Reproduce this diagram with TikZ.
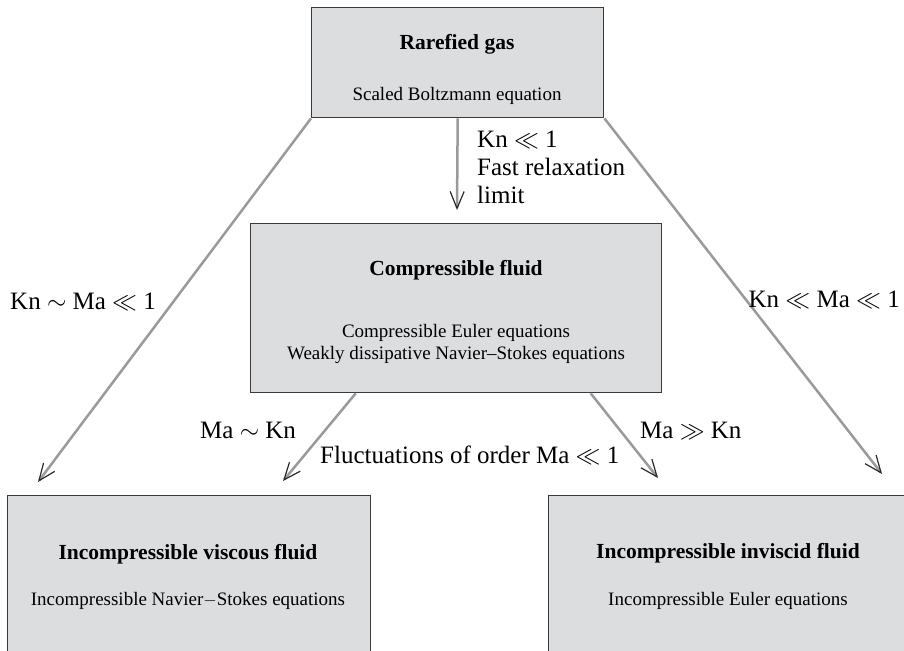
\documentclass[tikz,border=0pt]{standalone}
\usepackage{fontspec}
\setmainfont{Liberation Serif}
\usetikzlibrary{arrows.meta}
\definecolor{boxfill}{HTML}{DCDDDF}
\definecolor{boxline}{HTML}{3A3A3A}
\definecolor{shaft}{HTML}{9A9A9A}
\definecolor{tipc}{HTML}{2A2A2A}
\begin{document}
\begin{tikzpicture}[x=1pt,y=-1pt,
  panel/.style={draw=boxline, fill=boxfill, line width=1.4pt, inner sep=0pt, anchor=north west},
  title/.style={font=\fontsize{21.5}{24}\selectfont\bfseries, anchor=base, inner sep=0pt},
  body/.style={font=\fontsize{19}{22}\selectfont, anchor=base, inner sep=0pt},
  lbl/.style={font=\fontsize{25}{28}\selectfont, inner sep=0pt, anchor=base west},
  flow/.style={draw=shaft, line width=2.5pt,
    -{Straight Barb[length=17pt,width=14pt,line width=1.2pt,color=tipc]}}]

\useasboundingbox (0,0) rectangle (904,650);
\clip (0,0) rectangle (904,650);

% boxes
\node[panel, minimum width=292pt, minimum height=110pt] (gas)  at (311,7)   {};
\node[panel, minimum width=411pt, minimum height=169pt] (comp) at (250,223) {};
\node[panel, minimum width=363pt, minimum height=170pt] (visc) at (7,495)   {};
\node[panel, minimum width=362pt, minimum height=170pt] (invi) at (548,495) {};

% box texts
\node[title] (gasT)  at (457,50)  {Rarefied gas};
\node[body]  (gasB)  at (457,101) {Scaled Boltzmann equation};
\node[title] (compT) at (456,275) {Compressible fluid};
\node[body]  (compB) at (456,337) {Compressible Euler equations};
\node[body]  (compC) at (456,359) {Weakly dissipative Navier--Stokes equations};
\node[title] (viscT) at (188,559) {Incompressible viscous fluid};
\node[body]  (viscB) at (188,605) {Incompressible Navier$-$Stokes equations};
\node[title] (inviT) at (728,558) {Incompressible inviscid fluid};
\node[body]  (inviB) at (728,605) {Incompressible Euler equations};

% arrow ends
\coordinate (tipL) at (38,482);
\coordinate (tipR) at (882,474);
\coordinate (tipM) at (457,210);
\coordinate (tipA) at (283,481);
\coordinate (tipB) at (658,478);

% connectors
\draw[flow] (gas.south west) -- (tipL);
\draw[flow] (gas.south east) -- (tipR);
\draw[flow] (gas.south) -- (tipM);
\draw[flow] ([xshift=-100.5pt]comp.south) -- (tipA);
\draw[flow] ([xshift=134.5pt]comp.south) -- (tipB);

% labels
\node[lbl] (lblL)  at (10,309)  {Kn $\sim$ Ma $\ll$ 1};
\node[lbl, anchor=base east] (lblR) at (900,307) {Kn $\ll$ Ma $\ll$ 1};
\node[lbl] (relA)  at (477,147) {Kn $\ll$ 1};
\node[lbl] (relB)  at (477,175) {Fast relaxation};
\node[lbl] (relC)  at (477,203) {limit};
\node[lbl] (lblA)  at (200,438) {Ma $\sim$ Kn};
\node[lbl] (lblF)  at (320,463) {Fluctuations of order Ma $\ll$ 1};
\node[lbl] (lblB)  at (640,438) {Ma $\gg$ Kn};
\end{tikzpicture}
\end{document}
